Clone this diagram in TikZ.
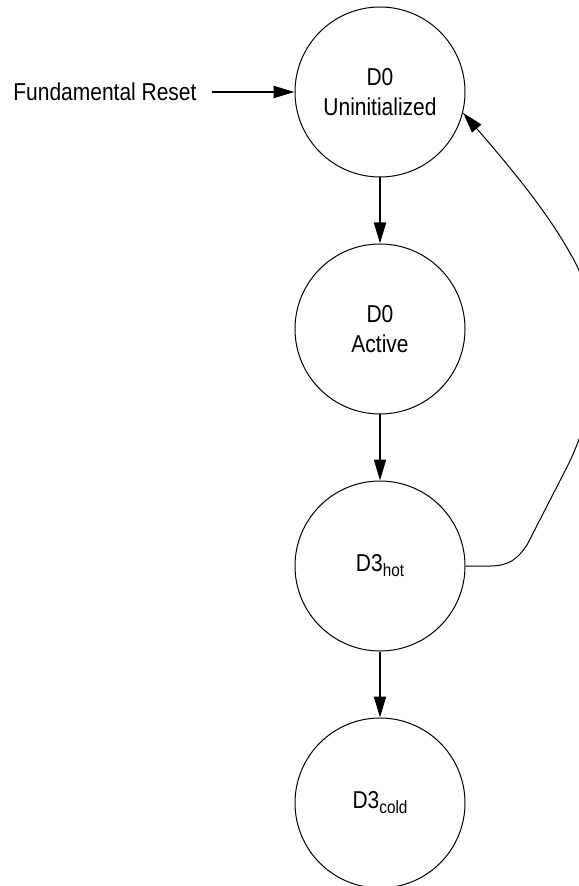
\documentclass[tikz,border=0pt]{standalone}
\usepackage{fontspec}
\setmainfont{Liberation Sans}[FakeStretch=0.86]
\usepackage{tikz}
\usetikzlibrary{arrows.meta, positioning}

\newcommand{\lowtext}[1]{\raisebox{-2.5pt}{\fontsize{8.9pt}{10pt}\selectfont #1}}

\begin{document}
\begin{tikzpicture}[x=0.5pt, y=-0.5pt,
  statenode/.style={draw, circle, line width=0.5pt, minimum size=85pt, inner sep=0pt, align=center, font=\fontsize{12.2pt}{15pt}\selectfont},
  flowarrow/.style={-{Triangle[length=10.5pt, width=6pt]}, line width=1pt},
  backarrow/.style={-{Triangle[length=10.5pt, width=6pt]}, line width=0.5pt}]
  \useasboundingbox (0,0) rectangle (578,886);

  % The states
  \node[statenode] (uninit) at (380, 92) {D0\\Uninitialized};
  \node[statenode] (active) at (380, 329) {D0\\Active};
  \node[statenode] (hot) at (380, 566) {D3\lowtext{hot}};
  \node[statenode] (cold) at (380, 803) {D3\lowtext{cold}};

  % Reset entry
  \node[left=41.5pt of uninit, inner xsep=7.5pt, outer sep=0pt, font=\fontsize{12.2pt}{15pt}\selectfont] (reset) {Fundamental Reset};
  \draw[flowarrow] (reset) -- (uninit);

  % Transitions
  \draw[flowarrow] (uninit) -- (active);
  \draw[flowarrow] (active) -- (hot);
  \draw[flowarrow] (hot) -- (cold);
  \draw[backarrow] (hot.east) -- (490, 566) .. controls (510, 566) and (518, 558) .. (527, 545) -- (568, 465) .. controls (600, 400) and (605, 320) .. (575, 262) .. controls (555, 225) and (530, 190) .. (uninit.-14);
\end{tikzpicture}
\end{document}
